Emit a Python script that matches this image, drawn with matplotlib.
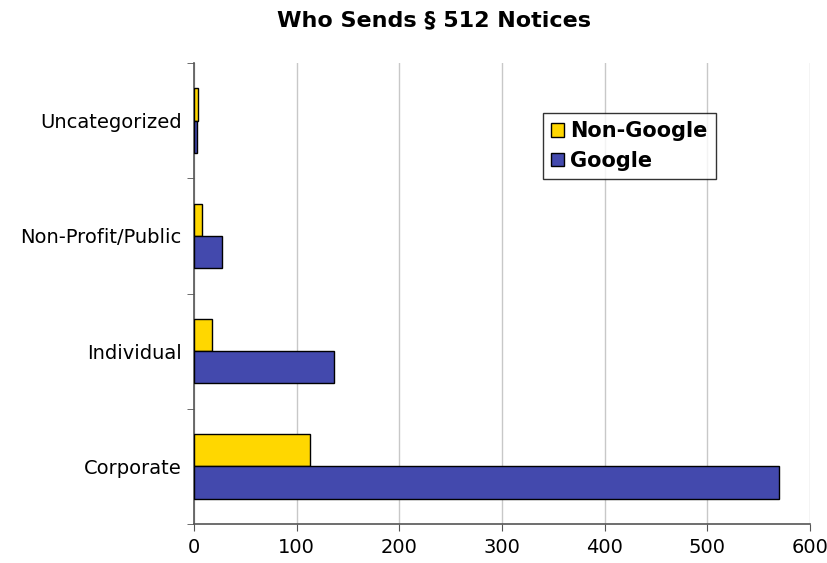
import matplotlib
matplotlib.use("Agg")
import matplotlib.pyplot as plt
import numpy as np

categories = ["Corporate", "Individual", "Non-Profit/Public", "Uncategorized"]
non_google = [113, 18, 8, 4]
google = [570, 136, 27, 3]
x_ticks = [0, 100, 200, 300, 400, 500, 600]

fig = plt.figure(figsize=(8.28, 5.63), dpi=100)
ax = fig.add_axes([194/828, 1-524/563, (810-194)/828, (524-63)/563])

y = np.arange(len(categories))
h = 0.28
ax.barh(y + h/2, non_google, height=h, color="#FFD700", edgecolor="black", linewidth=1, label="Non-Google", zorder=3)
ax.barh(y - h/2, google, height=h, color="#4349AD", edgecolor="black", linewidth=1, label="Google", zorder=3)

ax.set_xlim(0, 600)
ax.set_ylim(-0.5, len(categories) - 0.5)
ax.set_xticks(x_ticks)
ax.set_xticklabels([str(v) for v in x_ticks], fontsize=14)
ax.set_yticks(y)
ax.set_yticklabels(categories, fontsize=14)
ax.set_yticks(np.arange(-0.5, len(categories)), minor=True)
ax.tick_params(axis="y", which="major", length=0, pad=9)
ax.tick_params(axis="y", which="minor", length=5, color="#555555", direction="out")
ax.tick_params(axis="x", length=5, color="#555555", direction="out", pad=5)
ax.xaxis.grid(True, color="#C8C8C8", linewidth=1, zorder=0)
ax.set_axisbelow(True)
for s in ["top", "right"]:
    ax.spines[s].set_visible(False)
for s in ["left", "bottom"]:
    ax.spines[s].set_color("#555555")
    ax.spines[s].set_linewidth(1.2)

leg = ax.legend(loc="upper left", bbox_to_anchor=((543-194)/616, (524-113)/461),
                prop={"weight": "bold", "size": 15}, frameon=True, fancybox=False,
                edgecolor="black", handlelength=0.6, handleheight=0.6, handletextpad=0.3,
                borderpad=0.4, labelspacing=0.45, borderaxespad=0)
leg.get_frame().set_linewidth(1)

fig.text(434/828, 1-20/563, "Who Sends § 512 Notices", ha="center", va="center",
         fontsize=16, fontweight="bold")

fig.savefig("out.png", dpi=100)
